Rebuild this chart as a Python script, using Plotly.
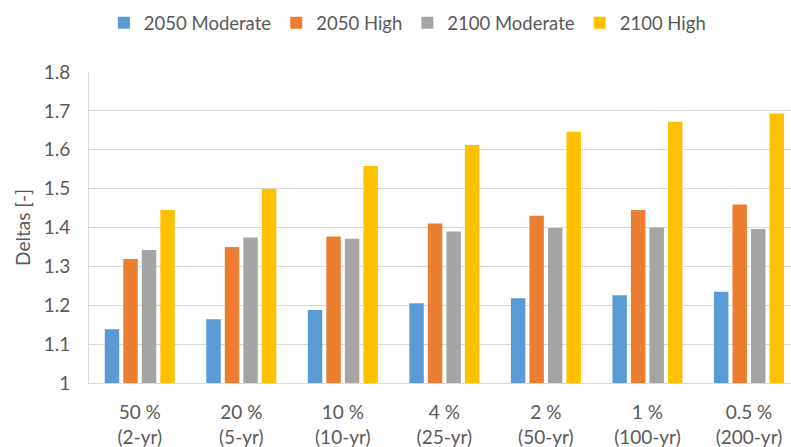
import plotly.graph_objects as go

categories = ["50 %<br>(2-yr)", "20 %<br>(5-yr)", "10 %<br>(10-yr)", "4 %<br>(25-yr)",
              "2 %<br>(50-yr)", "1 %<br>(100-yr)", "0.5 %<br>(200-yr)"]
series_names = ["2050 Moderate", "2050 High", "2100 Moderate", "2100 High"]
v_2050_moderate = [1.138, 1.164, 1.188, 1.205, 1.218, 1.226, 1.235]
v_2050_high = [1.319, 1.350, 1.377, 1.410, 1.430, 1.445, 1.459]
v_2100_moderate = [1.342, 1.374, 1.371, 1.390, 1.399, 1.400, 1.396]
v_2100_high = [1.445, 1.499, 1.558, 1.612, 1.646, 1.672, 1.693]
y_tick_vals = [1, 1.1, 1.2, 1.3, 1.4, 1.5, 1.6, 1.7, 1.8]
y_tick_text = ["1", "1.1", "1.2", "1.3", "1.4", "1.5", "1.6", "1.7", "1.8"]
y_title = "Deltas [-]"

colors = ["#5B9BD5", "#ED7D31", "#A5A5A5", "#FFC000"]
values = [v_2050_moderate, v_2050_high, v_2100_moderate, v_2100_high]

FONT = "Lato, 'Open Sans', sans-serif"
TXT = "#595959"

fig = go.Figure()
for name, vals, col in zip(series_names, values, colors):
    fig.add_trace(go.Bar(x=list(range(len(categories))), y=vals, name=name,
                         marker=dict(color=col, line=dict(width=0))))

fig.update_layout(
    width=791, height=447,
    margin=dict(l=89, r=0, t=72, b=64, autoexpand=False),
    paper_bgcolor="white", plot_bgcolor="white",
    barmode="group", bargap=0.27, bargroupgap=0.22,
    font=dict(family=FONT, color=TXT, size=19),
    showlegend=True,
    legend=dict(orientation="h", xref="container", yref="container",
                x=0.515, xanchor="center", y=0.948, yanchor="middle",
                font=dict(size=18.5, color=TXT, family=FONT),
                itemclick=False, traceorder="normal"),
    xaxis=dict(range=[-0.5, 6.414], tickmode="array",
               tickvals=list(range(len(categories))), ticktext=categories,
               showgrid=False, showline=True, linecolor="#D9D9D9", linewidth=1,
               ticks="", tickfont=dict(size=19, color=TXT, family=FONT),
               ticklabelstandoff=12, zeroline=False, fixedrange=True),
    yaxis=dict(range=[1, 1.8], tickmode="array", tickvals=y_tick_vals,
               ticktext=y_tick_text, showgrid=True, gridcolor="#D9D9D9",
               gridwidth=1, showline=True, linecolor="#D9D9D9", linewidth=1,
               ticks="", tickfont=dict(size=19, color=TXT, family=FONT),
               ticklabelstandoff=14, zeroline=False,
               title=dict(text=y_title, font=dict(size=19, color=TXT, family=FONT),
                          standoff=8),
               fixedrange=True),
)

fig.write_html("out.html", config={"displayModeBar": False},
               post_script="document.body.style.margin='0';document.body.style.overflow='hidden';")
